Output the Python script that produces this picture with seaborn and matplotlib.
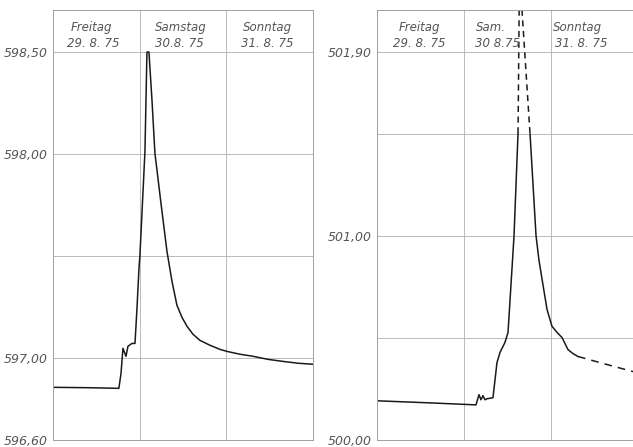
import matplotlib
matplotlib.use("Agg")
import matplotlib.pyplot as plt
import seaborn as sns
import pandas as pd

# ---------------- data ----------------
day_names = ["Freitag", "Samstag", "Sonntag"]
day_names_right = ["Freitag", "Sam.", "Sonntag"]
day_dates = ["29. 8. 75", "30.8. 75", "31. 8. 75"]
day_dates_right = ["29. 8. 75", "30 8.75", "31. 8. 75"]

left_days = [0.01, 0.43, 0.76, 0.785, 0.807, 0.842, 0.865, 0.911, 0.946, 0.969,
             0.992, 1.003, 1.061, 1.084, 1.107, 1.142, 1.176, 1.246, 1.315, 1.373,
             1.430, 1.488, 1.546, 1.615, 1.696, 1.811, 1.926, 2.007, 2.157, 2.307,
             2.480, 2.653, 2.826, 2.999]
left_vals = [596.858, 596.856, 596.853, 596.927, 597.049, 597.010, 597.059, 597.073,
             597.073, 597.245, 597.441, 597.504, 598.014, 598.50, 598.50, 598.265,
             598.005, 597.759, 597.524, 597.377, 597.260, 597.201, 597.157, 597.118,
             597.088, 597.064, 597.044, 597.034, 597.020, 597.010, 596.995, 596.985,
             596.976, 596.971]

right_solid1_days = [0.0, 0.60, 1.138, 1.172, 1.195, 1.218, 1.241, 1.264, 1.333, 1.379,
                     1.414, 1.471, 1.506, 1.575, 1.621]
right_solid1_vals = [500.192, 500.182, 500.172, 500.222, 500.197, 500.217, 500.197,
                     500.202, 500.207, 500.379, 500.429, 500.478, 500.527, 501.00,
                     501.502]
right_peak_days = [1.621, 1.636, 1.652, 1.759]
right_peak_vals = [501.502, 502.20, 502.20, 501.50]
right_solid2_days = [1.759, 1.828, 1.862, 1.897, 1.954, 2.011, 2.069, 2.126, 2.195,
                     2.253, 2.31]
right_solid2_vals = [501.50, 501.00, 500.88, 500.788, 500.640, 500.557, 500.527,
                     500.502, 500.443, 500.423, 500.409]
right_tail_days = [2.31, 2.563, 2.943]
right_tail_vals = [500.409, 500.379, 500.335]

left_ticks = [596.60, 597.00, 598.00, 598.50]
left_ticklabels = ["596,60", "597,00", "598,00", "598,50"]
left_grid = [597.00, 597.50, 598.00, 598.50]
right_ticks = [500.00, 501.00, 501.90]
right_ticklabels = ["500,00", "501,00", "501,90"]
right_grid = [500.50, 501.00, 501.50, 501.90]

# ---------------- style ----------------
sns.set_style("white")
plt.rcParams["font.family"] = ["DejaVu Sans"]

W, H = 633, 447
fig = plt.figure(figsize=(W / 100, H / 100), dpi=100)
fig.patch.set_facecolor("white")

ax_l = fig.add_axes([53 / W, 7 / H, 260 / W, 430 / H])
ax_r = fig.add_axes([377 / W, 7 / H, 256 / W, 430 / H])

line_kw = dict(color="#1a1a1a", linewidth=1.1, sort=False, estimator=None)
grid_c = "#b0b0b0"
spine_c = "#a0a0a0"
text_c = "#555555"


def df(x, y):
    return pd.DataFrame({"day": x, "val": y})


sns.lineplot(data=df(left_days, left_vals), x="day", y="val", ax=ax_l, **line_kw)
sns.lineplot(data=df(right_solid1_days, right_solid1_vals), x="day", y="val", ax=ax_r, **line_kw)
sns.lineplot(data=df(right_solid2_days, right_solid2_vals), x="day", y="val", ax=ax_r, **line_kw)
sns.lineplot(data=df(right_peak_days, right_peak_vals), x="day", y="val", ax=ax_r,
             linestyle=(0, (4, 3)), **line_kw)
sns.lineplot(data=df(right_tail_days, right_tail_vals), x="day", y="val", ax=ax_r,
             linestyle=(0, (5, 4)), **line_kw)

ax_l.set_xlim(0, 3)
ax_l.set_ylim(596.60, 598.706)
ax_r.set_xlim(0, 256 / 87)
ax_r.set_ylim(500.00, 502.106)

for ax, grid, ticks, labels in [(ax_l, left_grid, left_ticks, left_ticklabels),
                                (ax_r, right_grid, right_ticks, right_ticklabels)]:
    ax.set_xlabel("")
    ax.set_ylabel("")
    ax.set_xticks([])
    ax.set_yticks(ticks)
    ax.set_yticklabels(labels, fontsize=9, style="italic", color=text_c)
    ax.tick_params(axis="y", length=3, width=0.6, color=spine_c, pad=1)
    for g in grid:
        ax.axhline(g, color=grid_c, linewidth=0.6, zorder=0)
    for d in [1, 2]:
        ax.axvline(d, color=grid_c, linewidth=0.6, zorder=0)
    for s in ax.spines.values():
        s.set_color(spine_c)
        s.set_linewidth(0.7)

ax_r.spines["right"].set_visible(False)

# header texts
name_y = 598.62
date_y = 598.54
left_name_x = [0.44, 1.47, 2.48]
left_date_x = [0.46, 1.46, 2.47]
for i in range(3):
    ax_l.text(left_name_x[i], name_y, day_names[i], ha="center", va="center",
              fontsize=8.5, style="italic", color=text_c)
    ax_l.text(left_date_x[i], date_y, day_dates[i], ha="center", va="center",
              fontsize=8.5, style="italic", color=text_c)

r_off = 501.90 - 598.50
right_name_x = [0.49, 1.14, 2.30]
right_date_x = [0.49, 1.13, 2.35]
right_ha = ["center", "left", "center"]
for i in range(3):
    ax_r.text(right_name_x[i], name_y + r_off, day_names_right[i], ha=right_ha[i],
              va="center", fontsize=8.5, style="italic", color=text_c)
    ax_r.text(right_date_x[i], date_y + r_off, day_dates_right[i], ha=right_ha[i],
              va="center", fontsize=8.5, style="italic", color=text_c)

fig.savefig("out.png", dpi=100, facecolor="white")
